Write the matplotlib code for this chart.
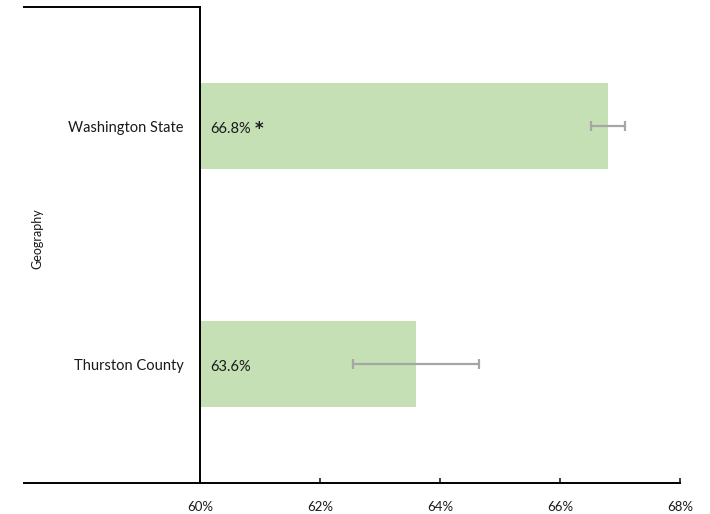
import matplotlib
matplotlib.use('Agg')
import matplotlib.pyplot as plt
from matplotlib.ticker import FuncFormatter

plt.rcParams['font.family'] = ['Lato', 'DejaVu Sans']

# data
places = ['Thurston County', 'Washington State']
values = [63.6, 66.8]
ci_low = [62.55, 66.51]
ci_high = [64.65, 67.08]
bar_labels = ['63.6%', '66.8%']
sig_flags = ['', '*']
x_ticks = [60, 62, 64, 66, 68]

BAR = '#C5E0B4'
ERR = '#A6A6A6'
INK = '#1A1A1A'

fig = plt.figure(figsize=(7.1, 5.14), dpi=100)
ax = fig.add_axes([0.0342, 0.0603, 0.9235, 0.926])

ypos = list(range(len(places)))
ax.barh(ypos, [v - 60 for v in values], left=60, height=0.36, color=BAR, zorder=1)

err_lo = [v - lo for v, lo in zip(values, ci_low)]
err_hi = [hi - v for v, hi in zip(values, ci_high)]
ax.errorbar(values, ypos, xerr=[err_lo, err_hi], fmt='none', ecolor=ERR,
            elinewidth=1.6, capsize=3.5, capthick=1.6, zorder=2)

for y, txt, flag in zip(ypos, bar_labels, sig_flags):
    t = ax.text(60.17, y - 0.012, txt, va='center', ha='left', fontsize=10.5, color=INK)
    if flag:
        # star sits at cap height, a bit heavier than the digits
        ax.annotate(flag, xy=(1, 1), xycoords=t, xytext=(2.5, 1.5),
                    textcoords='offset points', ha='left', va='top',
                    fontsize=12, fontweight='bold', color=INK,
                    family=['DejaVu Sans'])

ax.set_xlim(57.07, 68)
ax.set_ylim(-0.5, 1.5)
ax.set_xticks(x_ticks)
ax.xaxis.set_major_formatter(FuncFormatter(lambda v, p: f'{v:.0f}%'))
ax.tick_params(axis='x', direction='in', length=3.5, width=1.2, pad=13,
               labelsize=9.5, colors=INK)

ax.set_yticks(ypos)
ax.set_yticklabels(places)
ax.tick_params(axis='y', length=0, pad=12, labelsize=10.5, colors=INK)

ax.spines['left'].set_position(('data', 60))
ax.spines['right'].set_visible(False)
ax.spines['top'].set_bounds(57.07, 60)
for s in ['left', 'top', 'bottom']:
    ax.spines[s].set_linewidth(1.4)
    ax.spines[s].set_color('black')

fig.text(0.052, 0.535, 'Geography', rotation=90, ha='center', va='center',
         fontsize=9, color=INK)

fig.savefig('out.png', dpi=100, facecolor='white')
